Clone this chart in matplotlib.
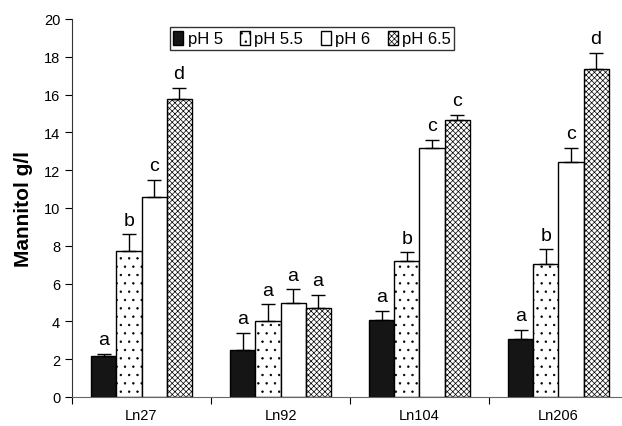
import matplotlib
matplotlib.use("Agg")
import matplotlib.pyplot as plt
import numpy as np

plt.rcParams['font.family'] = ['Liberation Sans', 'DejaVu Sans']
plt.rcParams['hatch.linewidth'] = 0.5

categories = ["Ln27", "Ln92", "Ln104", "Ln206"]
series = ["pH 5", "pH 5.5", "pH 6", "pH 6.5"]
values = {
    "pH 5":   [2.15, 2.5, 4.1, 3.05],
    "pH 5.5": [7.75, 4.03, 7.2, 7.02],
    "pH 6":   [10.57, 5.0, 13.16, 12.45],
    "pH 6.5": [15.75, 4.72, 14.68, 17.35],
}
errors = {
    "pH 5":   [0.15, 0.9, 0.45, 0.5],
    "pH 5.5": [0.85, 0.87, 0.45, 0.8],
    "pH 6":   [0.92, 0.7, 0.45, 0.72],
    "pH 6.5": [0.62, 0.7, 0.25, 0.86],
}
letters = {
    "pH 5":   ["a", "a", "a", "a"],
    "pH 5.5": ["b", "a", "b", "b"],
    "pH 6":   ["c", "a", "c", "c"],
    "pH 6.5": ["d", "a", "c", "d"],
}
yticks = [0, 2, 4, 6, 8, 10, 12, 14, 16, 18, 20]

styles = {
    "pH 5":   dict(facecolor="#151515", hatch=None),
    "pH 5.5": dict(facecolor="white", hatch=".."),
    "pH 6":   dict(facecolor="white", hatch=None),
    "pH 6.5": dict(facecolor="white", hatch="xxxxxx"),
}

W, H = 622, 427
fig = plt.figure(figsize=(W / 100, H / 100), dpi=100)
ax = fig.add_axes([72 / W, (H - 398) / H, (628 - 72) / W, (398 - 20) / H])

x = np.arange(len(categories))
bw = 0.18
for i, s in enumerate(series):
    pos = x + (i - 1.5) * bw
    st = styles[s]
    ax.bar(pos, values[s], width=bw, facecolor=st["facecolor"], hatch=st["hatch"],
           edgecolor="black", linewidth=1.0, label=s, zorder=2)
    ax.errorbar(pos, values[s], yerr=[np.zeros(len(pos)), errors[s]], fmt="none",
                ecolor="black", elinewidth=1.0, capsize=5, capthick=1.0, zorder=3)
    for p, v, e, t in zip(pos, values[s], errors[s], letters[s]):
        ax.text(p, v + e + 0.3, t, ha="center", va="bottom", fontsize=14)

ax.set_xlim(-0.5, 3.5)
ax.set_ylim(0, 20)
ax.set_yticks(yticks)
ax.set_xticks(np.arange(-0.5, 4.0, 1.0))
ax.set_xticklabels([])
ax.set_xticks(x, minor=True)
ax.set_xticklabels(categories, minor=True, fontsize=10.5)
ax.tick_params(axis="x", which="minor", length=0, pad=8)
ax.tick_params(axis="x", which="major", length=5, direction="out")
ax.tick_params(axis="y", labelsize=10.5, length=5)
for sp in ["top", "right"]:
    ax.spines[sp].set_visible(False)
ax.spines["bottom"].set_color("#666666")
ax.spines["left"].set_color("#333333")
ax.set_ylabel("Mannitol g/l", fontsize=15, fontweight="bold", labelpad=8)

leg = ax.legend(loc="upper center", bbox_to_anchor=((312 - 72) / (628 - 72), 1.0),
                ncol=4, frameon=True, fancybox=False, edgecolor="black", fontsize=12,
                handlelength=0.6, handleheight=0.9, handletextpad=0.25, columnspacing=1.05,
                borderpad=0.2)
leg.get_frame().set_linewidth(1.0)

fig.savefig("out.png", dpi=100)
